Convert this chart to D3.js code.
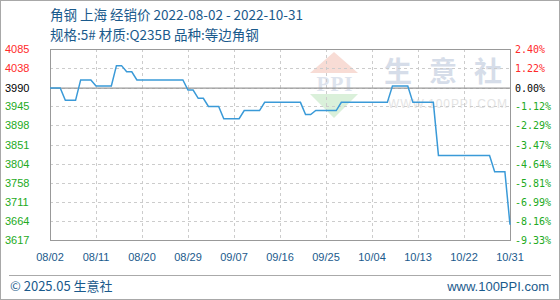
<!DOCTYPE html>
<html>
<head>
<meta charset="utf-8">
<script src="https://cdn.jsdelivr.net/npm/d3@7/dist/d3.min.js"></script>
<style>
  body { margin: 0; background: #fff; }
  svg { display: block; }
</style>
</head>
<body>
<svg id="chart" width="560" height="300"></svg>
<script>
const titleText = '角钢 上海 经销价 2022-08-02 - 2022-10-31'
const subtitleText = '规格:5# 材质:Q235B 品种:等边角钢'

// one price per day starting at startDate
const startDate = '2022-08-02'
const basePrice = 3990
const prices = [
  3990, 3990, 3990, 3960, 3960, 3960, 4010, 4010, 4010, 3995,
  3995, 3995, 3995, 4045, 4045, 4030, 4030, 4010, 4010, 4010,
  4010, 4010, 4010, 4010, 4010, 4010, 4010, 3985, 3985, 3965,
  3965, 3945, 3945, 3945, 3915, 3915, 3915, 3915, 3935, 3935,
  3935, 3935, 3955, 3955, 3955, 3955, 3955, 3955, 3955, 3955,
  3925, 3925, 3935, 3935, 3935, 3935, 3935, 3955, 3955, 3955,
  3955, 3955, 3955, 3955, 3955, 3955, 3955, 3995, 3995, 3995,
  3995, 3955, 3955, 3955, 3955, 3955, 3825, 3825, 3825, 3825,
  3825, 3825, 3825, 3825, 3825, 3825, 3825, 3785, 3785, 3785,
  3655
]

const xTickLabels = ['08/02', '08/11', '08/20', '08/29', '09/07', '09/16', '09/25', '10/04', '10/13', '10/22', '10/31']
const priceTickLabels = ['4085', '4038', '3990', '3945', '3898', '3851', '3804', '3758', '3711', '3664', '3617']
const pctTicks = [2.40, 1.22, 0.00, -1.12, -2.29, -3.47, -4.64, -5.81, -6.99, -8.16, -9.33]

const W = 560
const H = 300
const plot = { left: 50, right: 510, top: 49, bottom: 240 }

const parseDay = d3.timeParse('%Y-%m-%d')
const start = parseDay(startDate)
const data = prices.map((v, i) => ({ date: d3.timeDay.offset(start, i), value: v }))
const tickDates = xTickLabels.map(s => parseDay('2022-' + s.replace('/', '-')))

const pctToPrice = p => basePrice * (1 + p / 100)

const x = d3.scaleTime()
  .domain([start, data[data.length - 1].date])
  .range([plot.left, plot.right])

const y = d3.scaleLinear()
  .domain([pctToPrice(d3.min(pctTicks)), pctToPrice(d3.max(pctTicks))])
  .range([plot.bottom, plot.top])

const svg = d3.select('#chart')
const blue = '#1a5a8c'
const fontCJK = '"Noto Sans CJK SC", "Noto Sans", sans-serif'

svg.append('rect')
  .attr('x', 0.5).attr('y', 0.5)
  .attr('width', W - 1).attr('height', H - 1)
  .attr('fill', '#fff')
  .attr('stroke', '#a8a8a8')

// titles
svg.append('text')
  .attr('x', 50).attr('y', 20)
  .attr('font-family', fontCJK)
  .attr('font-size', 13.5)
  .attr('fill', blue)
  .text(titleText)

svg.append('text')
  .attr('x', 50).attr('y', 40)
  .attr('font-family', fontCJK)
  .attr('font-size', 13.5)
  .attr('fill', blue)
  .text(subtitleText)

// watermark
const wm = svg.append('g')
wm.append('path')
  .attr('d', 'M334,52 L358,73 L310,73 Z')
  .attr('fill', '#f8dcd5')
wm.append('path')
  .attr('d', 'M310,94 L358,94 L334,118 Z')
  .attr('fill', '#daf0da')
wm.append('text')
  .attr('x', 335).attr('y', 91)
  .attr('text-anchor', 'middle')
  .attr('font-family', 'Liberation Serif, serif')
  .attr('font-weight', 'bold')
  .attr('font-size', 21)
  .attr('letter-spacing', 1)
  .attr('fill', '#dde3ed')
  .text('PPI')
// each character placed on its own so no trailing spacing runs into the axis
wm.selectAll('text.wmc')
  .data(['生', '意', '社'])
  .join('text')
  .attr('class', 'wmc')
  .attr('x', (d, i) => 384 + i * 45)
  .attr('y', 82)
  .attr('font-family', fontCJK)
  .attr('font-weight', 'bold')
  .attr('font-size', 28)
  .attr('fill', '#d6dde9')
  .text(d => d)
wm.append('text')
  .attr('x', 388).attr('y', 108)
  .attr('font-family', 'Liberation Sans, sans-serif')
  .attr('font-size', 12)
  .attr('textLength', 119)
  .attr('fill', '#e4e4e4')
  .text('WWW.100PPI.COM')

// grid
const grid = svg.append('g')
  .attr('stroke', '#cccccc')
  .attr('stroke-dasharray', '3,3')

grid.selectAll('line.h')
  .data(pctTicks.slice(1, -1))
  .join('line')
  .attr('class', 'h')
  .attr('x1', plot.left).attr('x2', plot.right)
  .attr('y1', d => Math.round(y(pctToPrice(d))) + 0.5)
  .attr('y2', d => Math.round(y(pctToPrice(d))) + 0.5)

grid.selectAll('line.v')
  .data(tickDates.slice(1, -1))
  .join('line')
  .attr('class', 'v')
  .attr('y1', plot.top).attr('y2', plot.bottom)
  .attr('x1', d => Math.round(x(d)) + 0.5)
  .attr('x2', d => Math.round(x(d)) + 0.5)

svg.append('rect')
  .attr('x', plot.left + 0.5).attr('y', plot.top + 0.5)
  .attr('width', plot.right - plot.left).attr('height', plot.bottom - plot.top)
  .attr('fill', 'none')
  .attr('stroke', '#999')

// reference line at the first price
svg.append('line')
  .attr('x1', plot.left).attr('x2', plot.right)
  .attr('y1', y(basePrice)).attr('y2', y(basePrice))
  .attr('stroke', '#999')
  .attr('stroke-width', 1.3)

const line = d3.line()
  .x(d => x(d.date))
  .y(d => y(d.value))

svg.append('path')
  .datum(data)
  .attr('d', line)
  .attr('fill', 'none')
  .attr('stroke', '#3a9ad8')
  .attr('stroke-width', 1.5)

const tickColor = p => p > 0 ? '#ff2a2a' : p < 0 ? '#22aa22' : '#000'

// left price axis
svg.append('g')
  .selectAll('text')
  .data(pctTicks)
  .join('text')
  .attr('x', 5)
  .attr('y', d => y(pctToPrice(d)) + 4)
  .attr('font-family', 'Liberation Sans, sans-serif')
  .attr('font-size', 11)
  .attr('fill', tickColor)
  .text((d, i) => priceTickLabels[i])

// right percent axis
svg.append('g')
  .selectAll('text')
  .data(pctTicks)
  .join('text')
  .attr('x', 515)
  .attr('y', d => y(pctToPrice(d)) + 4)
  .attr('font-family', '"DejaVu Sans Mono", monospace')
  .attr('font-size', 10)
  .attr('fill', tickColor)
  .text(d => d.toFixed(2) + '%')

// date labels, centred on the vertical grid lines
svg.append('g')
  .selectAll('text')
  .data(tickDates)
  .join('text')
  .attr('x', d => x(d))
  .attr('y', 261)
  .attr('text-anchor', 'middle')
  .attr('font-family', 'Liberation Sans, sans-serif')
  .attr('font-size', 11)
  .attr('fill', blue)
  .text((d, i) => xTickLabels[i])

// footer
svg.append('line')
  .attr('x1', 9).attr('x2', 551)
  .attr('y1', 275.5).attr('y2', 275.5)
  .attr('stroke', '#aaa')

svg.append('text')
  .attr('x', 10).attr('y', 291)
  .attr('font-family', fontCJK)
  .attr('font-size', 13)
  .attr('fill', blue)
  .text('© 2025.05 生意社')

svg.append('text')
  .attr('x', 549).attr('y', 291)
  .attr('text-anchor', 'end')
  .attr('font-family', 'Liberation Sans, sans-serif')
  .attr('font-size', 13)
  .attr('fill', blue)
  .text('www.100PPI.com')
</script>
</body>
</html>
